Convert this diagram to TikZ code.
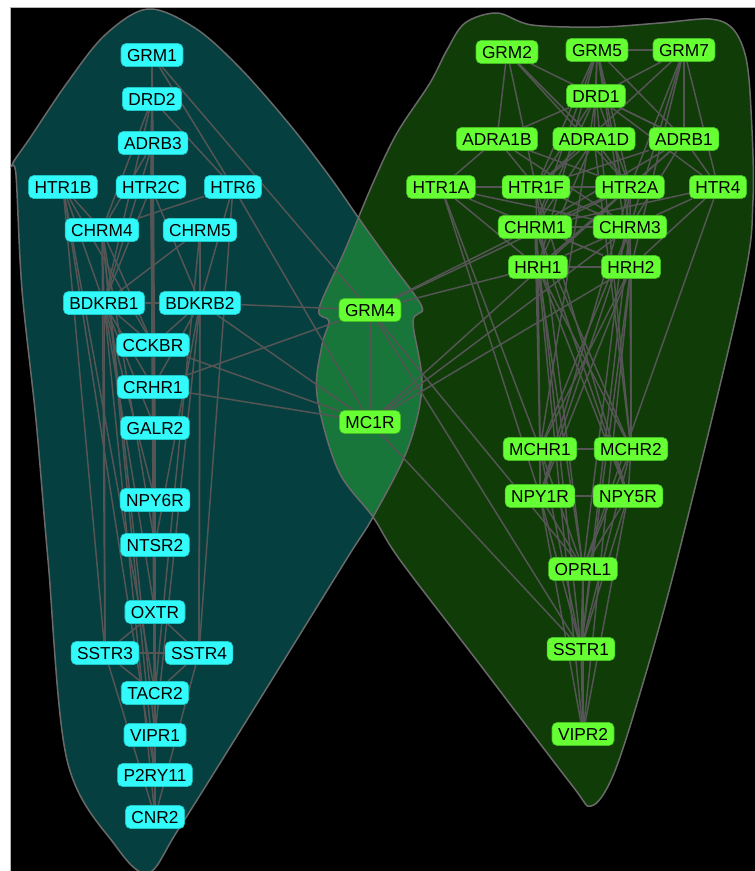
\documentclass[tikz,border=0pt]{standalone}
\usepackage{fontspec}
\setmainfont{Liberation Sans}
\usetikzlibrary{backgrounds}
\definecolor{cyangene}{RGB}{51,250,250}
\definecolor{cyanrim}{RGB}{30,200,200}
\definecolor{limegene}{RGB}{102,255,51}
\definecolor{limerim}{RGB}{70,190,35}
\definecolor{tealhull}{RGB}{5,63,63}
\definecolor{greenhull}{RGB}{16,60,8}
\definecolor{sharedhull}{RGB}{24,118,58}
\definecolor{rimgray}{RGB}{105,105,105}
\definecolor{linkgray}{RGB}{85,85,85}

% outlines of the two groups
\def\lefthull{plot[smooth cycle, tension=0.55] coordinates {(148,9) (195,28) (240,68) (290,125) (330,177) (360,220) (390,262) (422,307) (413,322) (422,385) (408,448) (373,517) (346,560) (250,715) (178,830) (148,873) (115,845) (67,760) (48,560) (36,420) (22,290) (16,175) (12,165) (30,138) (67,83) (105,35)}}
\def\righthull{plot[smooth cycle, tension=0.55] coordinates {(497,13) (532,25) (600,27) (660,23) (710,19) (733,29) (746,58) (751,110) (753,200) (742,290) (677,560) (638,700) (612,778) (591,806) (571,784) (478,662) (400,560) (373,517) (338,470) (317,395) (322,345) (329,321) (319,309) (345,250) (373,183) (397,133) (430,83) (447,50) (465,23)}}

\begin{document}
\begin{tikzpicture}[x=1pt,y=-1pt,
		every node/.style={rounded corners=5pt, inner xsep=6pt, inner ysep=0pt, minimum height=23pt, text height=12.4pt, text depth=0pt, font=\fontsize{17.3}{19}\selectfont, line width=0.6pt},
		leftgene/.style={fill=cyangene, draw=cyanrim},
		rightgene/.style={fill=limegene, draw=limerim},
		link/.style={draw=linkgray, line width=1.5pt},
		hull/.style={draw=rimgray, line width=1.5pt}
		]
		
		\useasboundingbox (0,0) rectangle (755,871);
		
		% left group
		\foreach \g/\x/\y in {GRM1/152/55, DRD2/152/99, ADRB3/153/143, HTR1B/63/187, HTR2C/151/187, HTR6/233/187,
			CHRM4/102/230, CHRM5/200/230, BDKRB1/104/303, BDKRB2/200/303, CCKBR/153/345, CRHR1/153/387,
			GALR2/155/428, NPY6R/155/500, NTSR2/155/545, OXTR/155/612, SSTR3/105/653, SSTR4/199/653,
			TACR2/155/693, VIPR1/155/735, P2RY11/155/775, CNR2/155/817}
		\node[leftgene] (\g) at (\x,\y) {\g};
		
		% right group
		\foreach \g/\x/\y in {GRM2/507/52, GRM5/597/50, GRM7/684/50, DRD1/596/96, ADRA1B/497/139, ADRA1D/594/139,
			ADRB1/684/139, HTR1A/441/187, HTR1F/536/187, HTR2A/630/187, HTR4/718/187, CHRM1/535/227,
			CHRM3/630/227, HRH1/538/267, HRH2/631/267, MCHR1/540/449, MCHR2/631/449, NPY1R/540/496,
			NPY5R/628/496, OPRL1/583/569, SSTR1/581/649, VIPR2/583/734, GRM4/370/310, MC1R/370/422}
		\node[rightgene] (\g) at (\x,\y) {\g};
		
		\begin{scope}[on background layer]
			\fill[white] (0,0) rectangle (755,871);
			\fill[black, draw=rimgray!50] (10,7) rectangle (756,872);
			\fill[tealhull] \lefthull;
			\fill[greenhull] \righthull;
			\begin{scope}
				\clip \lefthull;
				\fill[sharedhull] \righthull;
			\end{scope}
			\draw[hull] \lefthull;
			\draw[hull] \righthull;
			
			% links
			\foreach \a/\b in {GRM1/DRD2, GRM1/ADRB3, GRM1/HTR2C, GRM1/HTR6, GRM1/GRM4, DRD2/ADRB3, DRD2/HTR6, DRD2/CHRM4,
				DRD2/BDKRB1, DRD2/HTR2C, ADRB3/HTR2C, ADRB3/CHRM4, ADRB3/BDKRB1, ADRB3/CCKBR, ADRB3/GALR2,
				HTR1B/CHRM4, HTR1B/BDKRB1, HTR1B/CCKBR, HTR1B/SSTR3, HTR1B/TACR2, HTR2C/BDKRB1, HTR2C/BDKRB2,
				HTR2C/CRHR1, HTR2C/NPY6R, HTR2C/OXTR, HTR6/CHRM4, HTR6/BDKRB2, HTR6/MC1R, HTR6/SSTR4,
				CHRM4/BDKRB1, CHRM4/CCKBR, CHRM4/NTSR2, CHRM4/SSTR3, CHRM4/VIPR1, CHRM4/P2RY11, CHRM5/BDKRB2,
				CHRM5/BDKRB1, CHRM5/SSTR4, CHRM5/TACR2, BDKRB1/BDKRB2, BDKRB1/CCKBR, BDKRB1/CRHR1, BDKRB1/GALR2,
				BDKRB1/NPY6R, BDKRB1/OXTR, BDKRB1/SSTR3, BDKRB1/CNR2, BDKRB2/GRM4, BDKRB2/MC1R, BDKRB2/CCKBR,
				BDKRB2/CRHR1, BDKRB2/NTSR2, BDKRB2/SSTR4, BDKRB2/VIPR1, CCKBR/CRHR1, CCKBR/MC1R, CCKBR/TACR2,
				CRHR1/GRM4, CRHR1/MC1R, CRHR1/GALR2, CRHR1/VIPR1, GALR2/NPY6R, GALR2/CNR2, NPY6R/NTSR2,
				NPY6R/P2RY11, NTSR2/OXTR, NTSR2/TACR2, OXTR/SSTR3, OXTR/SSTR4, OXTR/TACR2, OXTR/CNR2,
				SSTR3/SSTR4, SSTR3/TACR2, SSTR3/CNR2, SSTR4/TACR2, SSTR4/CNR2, TACR2/VIPR1, TACR2/CNR2,
				VIPR1/P2RY11, VIPR1/CNR2, P2RY11/CNR2, HTR2C/CNR2, ADRB3/TACR2, HTR1B/P2RY11}
			\draw[link] (\a) -- (\b);
			\foreach \a/\b in {GRM4/MC1R, GRM4/CHRM1, GRM4/HRH1, GRM4/HTR2A, GRM4/OPRL1, GRM4/SSTR1, MC1R/HTR2A,
				MC1R/CHRM3, MC1R/HRH2, MC1R/SSTR1}
			\draw[link] (\a) -- (\b);
			\foreach \a/\b in {GRM5/GRM7, GRM2/ADRA1B, GRM2/ADRA1D, GRM2/ADRB1, GRM2/HTR1F, GRM2/HTR2A, GRM5/DRD1,
				GRM5/ADRA1D, GRM5/HTR1F, GRM5/HTR2A, GRM5/CHRM1, GRM5/CHRM3, GRM5/ADRB1, GRM5/HRH1, GRM5/HRH2,
				GRM7/DRD1, GRM7/ADRB1, GRM7/HTR2A, GRM7/CHRM3, GRM7/HRH2, GRM7/HTR1F, GRM7/HTR4, DRD1/ADRA1B,
				DRD1/ADRB1, DRD1/HTR4, DRD1/HTR1F, DRD1/HTR2A, DRD1/CHRM1, DRD1/MCHR1, DRD1/MCHR2, ADRA1B/HTR1A,
				ADRA1B/HTR1F, ADRA1B/HTR2A, ADRA1B/CHRM3, ADRA1D/HTR1F, ADRA1D/CHRM1, ADRA1D/HRH1, ADRA1D/HTR2A,
				ADRA1D/MCHR2, ADRB1/HTR4, ADRB1/HTR2A, ADRB1/CHRM3, ADRB1/CHRM1, ADRB1/HRH1, ADRB1/HTR1F,
				HTR1A/HTR1F, HTR1A/HRH1, HTR1A/CHRM3, HTR1A/MCHR1, HTR1A/NPY1R, HTR1A/HRH2, HTR1F/HTR2A,
				HTR1F/CHRM3, HTR1F/MCHR1, HTR1F/NPY5R, HTR2A/CHRM1, HTR2A/HRH1, HTR2A/MCHR2, HTR2A/NPY1R,
				HTR4/CHRM3, HTR4/HRH2, HTR4/OPRL1, HTR4/CHRM1, CHRM1/CHRM3, CHRM1/HRH2, CHRM1/MCHR1, CHRM1/MCHR2,
				CHRM1/NPY5R, CHRM3/HRH1, CHRM3/MCHR2, CHRM3/MCHR1, CHRM3/NPY1R, HRH1/HRH2, HRH1/MCHR1,
				HRH1/MCHR2, HRH1/NPY5R, HRH1/OPRL1, HRH2/MCHR1, HRH2/MCHR2, HRH2/NPY1R, HRH2/SSTR1,
				MCHR1/MCHR2, MCHR1/NPY1R, MCHR1/OPRL1, MCHR1/SSTR1, MCHR2/NPY5R, MCHR2/OPRL1, MCHR2/SSTR1,
				NPY1R/NPY5R, NPY1R/OPRL1, NPY1R/SSTR1, NPY1R/VIPR2, NPY5R/OPRL1, NPY5R/SSTR1, NPY5R/VIPR2,
				OPRL1/SSTR1, OPRL1/VIPR2, SSTR1/VIPR2, CHRM1/SSTR1, CHRM3/SSTR1, HTR1F/OPRL1, HTR2A/OPRL1,
				HRH1/VIPR2, HRH2/VIPR2}
			\draw[link] (\a) -- (\b);
		\end{scope}
		
	\end{tikzpicture}
\end{document}
